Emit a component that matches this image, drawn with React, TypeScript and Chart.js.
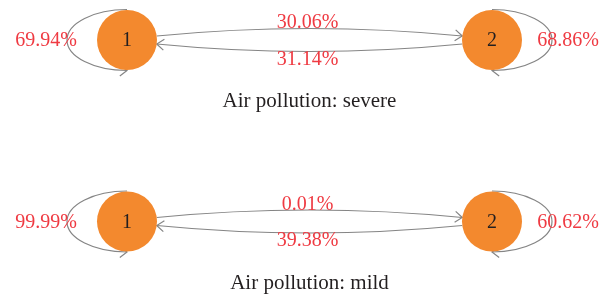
import React, { useEffect, useRef } from "react";
import { Chart, registerables } from "chart.js";

Chart.register(...registerables);

// ---- data ----
const states = ["1", "2"];
const panels = ["Air pollution: severe", "Air pollution: mild"];
const stay1 = [69.94, 99.99]; // P(1 -> 1)
const stay2 = [68.86, 60.62]; // P(2 -> 2)
const move12 = [30.06, 0.01]; // P(1 -> 2)
const move21 = [31.14, 39.38]; // P(2 -> 1)

const fmt = (v: number) => v.toFixed(2) + "%";

const ORANGE = "#f3892e";
const RED = "#ef3a42";
const GRAY = "#858585";
const FONT = '"Liberation Serif", "Times New Roman", serif';
const R = 30;

function arrowHead(ctx: CanvasRenderingContext2D, tx: number, ty: number, ang: number) {
  const len = 9;
  const spread = 0.65;
  ctx.beginPath();
  ctx.moveTo(tx - len * Math.cos(ang - spread), ty - len * Math.sin(ang - spread));
  ctx.lineTo(tx, ty);
  ctx.lineTo(tx - len * Math.cos(ang + spread), ty - len * Math.sin(ang + spread));
  ctx.stroke();
}

const markovPlugin = {
  id: "markov",
  beforeDatasetsDraw(chart: any) {
    const ctx: CanvasRenderingContext2D = chart.ctx;
    const xs = chart.scales.x;
    const ys = chart.scales.y;
    ctx.save();
    ctx.strokeStyle = GRAY;
    ctx.lineWidth = 1.2;
    panels.forEach((_, p) => {
      const cy = ys.getPixelForValue(p);
      const x1 = xs.getPixelForValue(1);
      const x2 = xs.getPixelForValue(2);
      const rx = 60;
      const ry = 30.5;
      // self loop state 1 (left side)
      ctx.beginPath();
      ctx.ellipse(x1, cy, rx, ry, 0, -Math.PI / 2, Math.PI / 2, true);
      ctx.stroke();
      arrowHead(ctx, x1, cy + ry, 0);
      // self loop state 2 (right side)
      ctx.beginPath();
      ctx.ellipse(x2, cy, rx, ry, 0, -Math.PI / 2, Math.PI / 2, false);
      ctx.stroke();
      arrowHead(ctx, x2, cy + ry, Math.PI);
      // 1 -> 2 (upper)
      const dy = 4;
      const ex = Math.sqrt(R * R - dy * dy);
      const mx = (x1 + x2) / 2;
      let sx = x1 + ex, sy = cy - dy, tx = x2 - ex, ty = cy - dy;
      let cx = mx, ccy = cy - 19;
      ctx.beginPath();
      ctx.moveTo(sx, sy);
      ctx.quadraticCurveTo(cx, ccy, tx, ty);
      ctx.stroke();
      arrowHead(ctx, tx, ty, Math.atan2(ty - ccy, tx - cx));
      // 2 -> 1 (lower)
      sx = x2 - ex; sy = cy + dy; tx = x1 + ex; ty = cy + dy;
      ccy = cy + 19;
      ctx.beginPath();
      ctx.moveTo(sx, sy);
      ctx.quadraticCurveTo(cx, ccy, tx, ty);
      ctx.stroke();
      arrowHead(ctx, tx, ty, Math.atan2(ty - ccy, tx - cx));
    });
    ctx.restore();
  },
  afterDatasetsDraw(chart: any) {
    const ctx: CanvasRenderingContext2D = chart.ctx;
    const xs = chart.scales.x;
    const ys = chart.scales.y;
    ctx.save();
    ctx.textAlign = "center";
    ctx.textBaseline = "middle";
    panels.forEach((title, p) => {
      const cy = ys.getPixelForValue(p);
      const x1 = xs.getPixelForValue(1);
      const x2 = xs.getPixelForValue(2);
      const mx = (x1 + x2) / 2;
      ctx.font = "20px " + FONT;
      // state labels
      ctx.fillStyle = "#231f20";
      states.forEach((s, i) => {
        ctx.fillText(s, xs.getPixelForValue(i + 1), cy + 1);
      });
      // probabilities
      ctx.fillStyle = RED;
      ctx.fillText(fmt(stay1[p]), x1 - 81, cy + 1);
      ctx.fillText(fmt(stay2[p]), x2 + 76, cy + 1);
      ctx.fillText(fmt(move12[p]), mx - 2, cy - 17);
      ctx.fillText(fmt(move21[p]), mx - 2, cy + 19.5);
      // title
      ctx.font = "21px " + FONT;
      ctx.fillStyle = "#231f20";
      ctx.textBaseline = "alphabetic";
      ctx.fillText(title, mx, cy + 67);
      ctx.textBaseline = "middle";
    });
    ctx.restore();
  },
};

export default function App() {
  const ref = useRef<HTMLCanvasElement | null>(null);
  useEffect(() => {
    document.body.style.margin = "0";
    if (!ref.current) return;
    const nodes = panels.flatMap((_, p) => states.map((_, i) => ({ x: i + 1, y: p })));
    const chart = new Chart(ref.current, {
      type: "scatter",
      data: {
        datasets: [
          {
            data: nodes,
            backgroundColor: ORANGE,
            borderWidth: 0,
            pointRadius: R,
            pointHoverRadius: R,
            clip: false,
          },
        ],
      },
      options: {
        animation: false,
        responsive: true,
        maintainAspectRatio: false,
        events: [],
        layout: { padding: 0, autoPadding: false },
        plugins: { legend: { display: false }, tooltip: { enabled: false } },
        scales: {
          x: { type: "linear", display: false, min: 1 - 127 / 365, max: 1 - 127 / 365 + 616 / 365 },
          y: { type: "linear", display: false, reverse: true, min: -40 / 181.5, max: -40 / 181.5 + 296 / 181.5 },
        },
      },
      plugins: [markovPlugin],
    });
    return () => chart.destroy();
  }, []);
  return (
    <div style={{ width: 616, height: 296, position: "relative" }}>
      <canvas ref={ref} />
    </div>
  );
}
